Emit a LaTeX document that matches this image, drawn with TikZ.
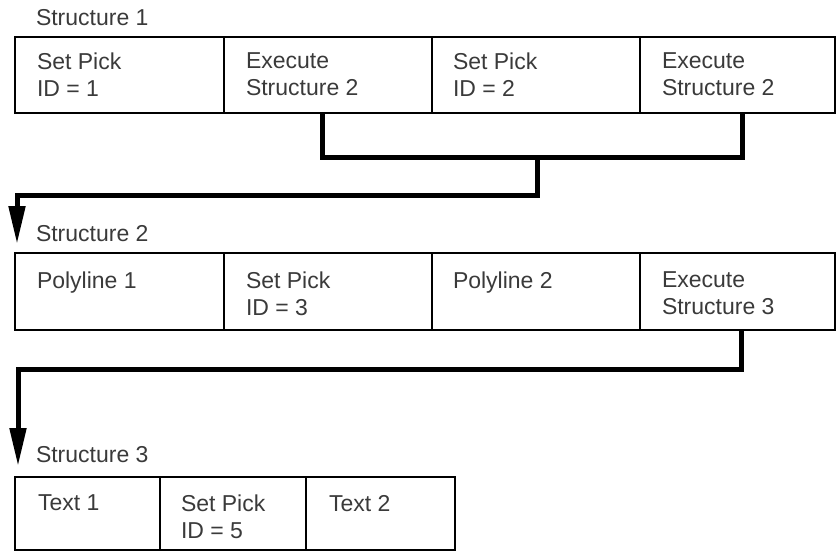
\documentclass[tikz,border=0pt]{standalone}
\usepackage{fontspec}
\setmainfont{Liberation Sans}
\usetikzlibrary{arrows.meta}
\definecolor{txtgray}{HTML}{3A3A3A}
\tikzset{
  cell/.style={draw=black, line width=2.6pt, rectangle, anchor=north west, outer sep=0pt, inner sep=0pt},
  txt/.style={anchor=north west, inner sep=0pt, outer sep=0pt, align=left, text=txtgray, font=\fontsize{23}{26.5}\selectfont},
  lbl/.style={anchor=base west, inner sep=0pt, outer sep=0pt, text=txtgray, font=\fontsize{23}{26.5}\selectfont},
  conn/.style={draw=black, line width=5pt, line join=miter},
  tip/.style={-{Triangle[length=38pt, width=16pt]}}
}
\begin{document}
\begin{tikzpicture}[x=1pt, y=-1pt]
\useasboundingbox (0,0) rectangle (838,552);
% Structure 1
\node[lbl] (s1) at (36,25) {Structure 1};
\node[cell, minimum width=209, minimum height=76] (a1) at (15,37) {};
\node[cell, minimum width=208, minimum height=76] (a2) at (224,37) {};
\node[cell, minimum width=208, minimum height=76] (a3) at (432,37) {};
\node[cell, minimum width=195, minimum height=76] (a4) at (640,37) {};
\node[txt] (a1t) at ([shift={(22,16)}]a1.north west) {Set Pick\\ID = 1};
\node[txt] (a2t) at ([shift={(22,16)}]a2.north west) {Execute\\Structure 2};
\node[txt] (a3t) at ([shift={(21,16)}]a3.north west) {Set Pick\\ID = 2};
\node[txt] (a4t) at ([shift={(22,16)}]a4.north west) {Execute\\Structure 2};
% Structure 2
\node[lbl] (s2) at (36,241) {Structure 2};
\node[cell, minimum width=209, minimum height=77] (b1) at (15,253) {};
\node[cell, minimum width=208, minimum height=77] (b2) at (224,253) {};
\node[cell, minimum width=208, minimum height=77] (b3) at (432,253) {};
\node[cell, minimum width=195, minimum height=77] (b4) at (640,253) {};
\node[txt] (b1t) at ([shift={(22,19)}]b1.north west) {Polyline 1};
\node[txt] (b2t) at ([shift={(22,19)}]b2.north west) {Set Pick\\ID = 3};
\node[txt] (b3t) at ([shift={(21,19)}]b3.north west) {Polyline 2};
\node[txt] (b4t) at ([shift={(22,19)}]b4.north west) {Execute\\Structure 3};
% Structure 3
\node[lbl] (s3) at (36,462) {Structure 3};
\node[cell, minimum width=145, minimum height=73] (c1) at (15,477) {};
\node[cell, minimum width=146, minimum height=73] (c2) at (160,477) {};
\node[cell, minimum width=149, minimum height=73] (c3) at (306,477) {};
\node[txt] (c1t) at ([shift={(23,18)}]c1.north west) {Text 1};
\node[txt] (c2t) at ([shift={(21,18)}]c2.north west) {Set Pick\\ID = 5};
\node[txt] (c3t) at ([shift={(23,18)}]c3.north west) {Text 2};
% connectors
\coordinate (m1) at (537,157);
\coordinate (t1) at (17,244);
\coordinate (t2) at (18,466);
\draw[conn] ([xshift=-6pt]a2.south) -- ([xshift=-6pt]a2.south |- m1) -- ([xshift=5pt]a4.south |- m1) -- ([xshift=5pt]a4.south);
\draw[conn, tip] (m1) -- ++(0,38) -| (t1);
\draw[conn, tip] ([xshift=4pt]b4.south) -- ++(0,39) -| (t2);
\end{tikzpicture}
\end{document}
